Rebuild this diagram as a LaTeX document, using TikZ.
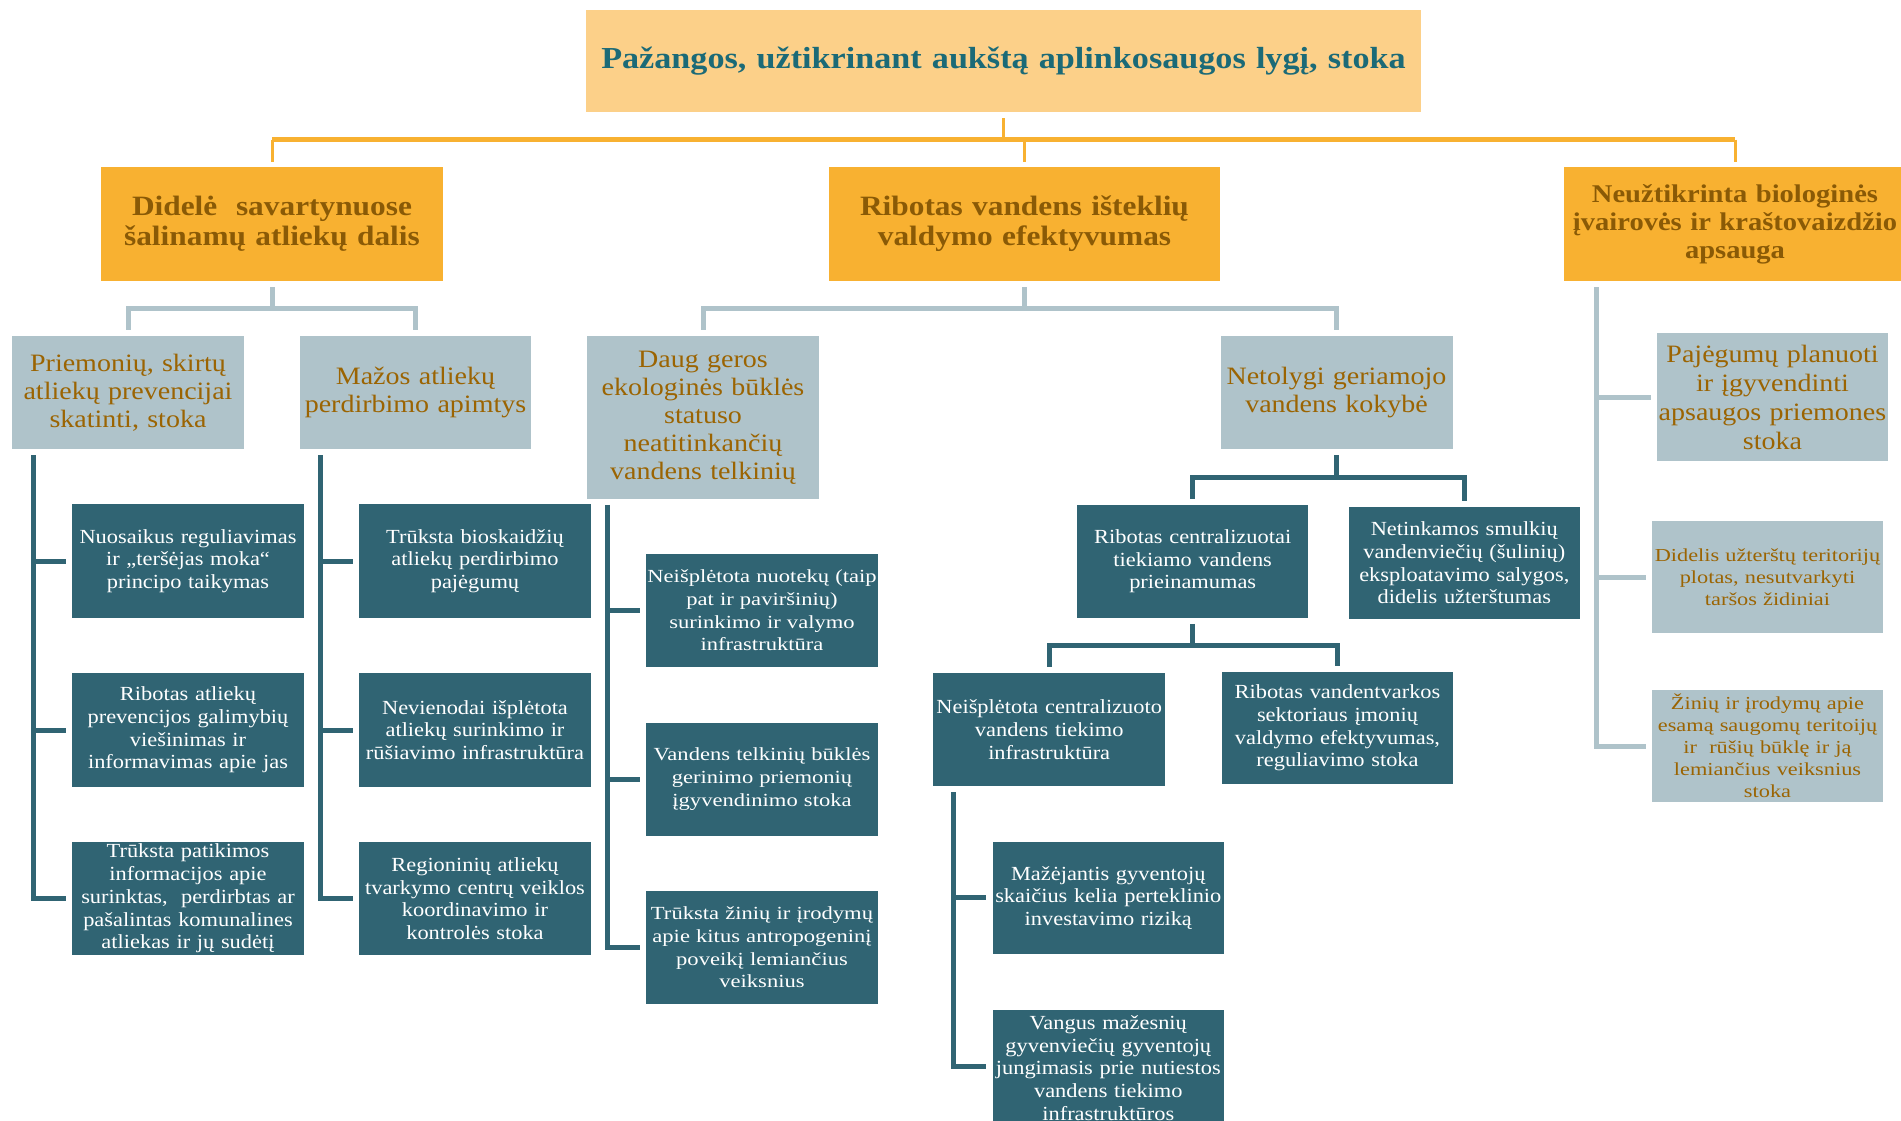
\documentclass[tikz,border=0pt]{standalone}
\usepackage{fontspec}
\setmainfont{Liberation Serif}[FakeStretch=1.12]
\newfontfamily\widefont{Liberation Serif}[FakeStretch=1.22]

\definecolor{topfill}{HTML}{FCD089}
\definecolor{toptext}{HTML}{1B6A77}
\definecolor{orfill}{HTML}{F8B131}
\definecolor{ortext}{HTML}{8A5A06}
\definecolor{grfill}{HTML}{AFC3CA}
\definecolor{grtext}{HTML}{9B6402}
\definecolor{tlfill}{HTML}{306473}

\begin{document}
\begin{tikzpicture}[x=1pt,y=-1pt,
  cbox/.style={rectangle, inner sep=0pt, align=center, anchor=center},
  sized/.style 2 args={text width=#1pt, minimum width=#1pt, minimum height=#2pt},
  topbox/.style={cbox, fill=topfill, text=toptext, font=\bfseries\fontsize{30.5}{34}\selectfont},
  lvone/.style={cbox, fill=orfill, text=ortext, font=\bfseries\fontsize{28}{30}\selectfont},
  lvtwo/.style={cbox, fill=grfill, text=grtext, font=\fontsize{25}{28}\selectfont},
  lvtwowide/.style={cbox, fill=grfill, text=grtext, font=\widefont\fontsize{18.3}{22}\selectfont},
  leaf/.style={cbox, fill=tlfill, text=white, font=\fontsize{20}{22.7}\selectfont},
  leafwide/.style={cbox, fill=tlfill, text=white, font=\widefont\fontsize{18.5}{22.6}\selectfont},
  overt/.style={draw=orfill, line width=3pt},
  obar/.style={draw=orfill, line width=5pt},
  gline/.style={draw=grfill, line width=5pt},
  tline/.style={draw=tlfill, line width=5pt}]

\useasboundingbox (0,0) rectangle (1901,1120);
\fill[white] (0,0) rectangle (1901,1120);
\clip (0,0) rectangle (1901,1120);

% ---------- root ----------
\node[topbox, sized={835}{102}] (top) at (1003.5,61)
  {Pažangos, užtikrinant aukštą aplinkosaugos lygį, stoka};

% ---------- first level ----------
\node[lvone, sized={342}{114}] (LA) at (272,224)
  {Didelė\ \ savartynuose\\šalinamų atliekų dalis};
\node[lvone, sized={391}{114}] (LB) at (1024.5,224)
  {Ribotas vandens išteklių\\valdymo efektyvumas};
\node[lvone, sized={342}{114}, font=\bfseries\fontsize{25.5}{28}\selectfont] (LC) at (1735,224)
  {Neužtikrinta biologinės\\įvairovės ir kraštovaizdžio\\apsauga};

% ---------- second level ----------
\node[lvtwo, sized={232}{113}] (A1) at (128,392.5)
  {Priemonių, skirtų\\atliekų prevencijai\\skatinti, stoka};
\node[lvtwo, sized={231}{113}] (A2) at (415.5,392.5)
  {Mažos atliekų\\perdirbimo apimtys};
\node[lvtwo, sized={232}{162.6}] (B1) at (703,417.3)
  {Daug geros\\ekologinės būklės\\statuso\\neatitinkančių\\vandens telkinių};
\node[lvtwo, sized={232}{113}] (B2) at (1336.5,392.5)
  {Netolygi geriamojo\\vandens kokybė};
\node[lvtwo, sized={231}{128}, font=\fontsize{25}{29}\selectfont] (C1) at (1772.5,397)
  {Pajėgumų planuoti\\ir įgyvendinti\\apsaugos priemones\\stoka};
\node[lvtwowide, sized={231}{112.5}] (C2) at (1767.5,577)
  {Didelis užterštų teritorijų\\plotas, nesutvarkyti\\taršos židiniai};
\node[lvtwowide, sized={231}{112}] (C3) at (1767.5,746)
  {Žinių ir įrodymų apie\\esamą saugomų teritoijų\\ir\ \ rūšių būklę ir ją\\lemiančius veiksnius\\stoka};

% ---------- waste branch leaves ----------
\node[leaf, sized={232}{114}] (A3) at (188,561)
  {Nuosaikus reguliavimas\\ir „teršėjas moka“\\principo taikymas};
\node[leaf, sized={232}{114}] (A4) at (188,730)
  {Ribotas atliekų\\prevencijos galimybių\\viešinimas ir\\informavimas apie jas};
\node[leaf, sized={232}{113}] (A5) at (188,898.5)
  {Trūksta patikimos\\informacijos apie\\surinktas,\ \ perdirbtas ar\\pašalintas komunalines\\atliekas ir jų sudėtį};
\node[leaf, sized={232}{114}] (A6) at (475,561)
  {Trūksta bioskaidžių\\atliekų perdirbimo\\pajėgumų};
\node[leaf, sized={232}{114}] (A7) at (475,730)
  {Nevienodai išplėtota\\atliekų surinkimo ir\\rūšiavimo infrastruktūra};
\node[leaf, sized={232}{113}] (A8) at (475,898.5)
  {Regioninių atliekų\\tvarkymo centrų veiklos\\koordinavimo ir\\kontrolės stoka};

% ---------- water branch leaves ----------
\node[leafwide, sized={232}{113}] (B3) at (762,610.5)
  {Neišplėtota nuotekų (taip\\pat ir paviršinių)\\surinkimo ir valymo\\infrastruktūra};
\node[leafwide, sized={232}{113}] (B4) at (762,779)
  {Vandens telkinių būklės\\gerinimo priemonių\\įgyvendinimo stoka};
\node[leafwide, sized={232}{113}] (B5) at (762,947.5)
  {Trūksta žinių ir įrodymų\\apie kitus antropogeninį\\poveikį lemiančius\\veiksnius};
\node[leaf, sized={231.5}{112.7}] (B6) at (1192.7,561.3)
  {Ribotas centralizuotai\\tiekiamo vandens\\prieinamumas};
\node[leaf, sized={231.5}{112.3}] (B7) at (1464.3,562.9)
  {Netinkamos smulkių\\vandenviečių (šulinių)\\eksploatavimo salygos,\\didelis užterštumas};
\node[leaf, sized={231.6}{113}] (B8) at (1049.2,729.5)
  {Neišplėtota centralizuoto\\vandens tiekimo\\infrastruktūra};
\node[leaf, sized={231}{112.3}] (B9) at (1337.5,727.9)
  {Ribotas vandentvarkos\\sektoriaus įmonių\\valdymo efektyvumas,\\reguliavimo stoka};
\node[leaf, sized={231.3}{112.3}] (B10) at (1108.3,897.9)
  {Mažėjantis gyventojų\\skaičius kelia perteklinio\\investavimo riziką};
\node[leaf, sized={231.3}{116}] (B11) at (1108.3,1068)
  {Vangus mažesnių\\gyvenviečių gyventojų\\jungimasis prie nutiestos\\vandens tiekimo\\infrastruktūros};

% ---------- root to first level ----------
\coordinate (oy) at (0,139.5);
\draw[overt] ([yshift=-6pt]top.south) -- (top.south |- oy);
\draw[obar] (LA.north |- oy) -- (LC.north |- oy);
\draw[overt] (LA.north |- oy) -- ([yshift=5pt]LA.north);
\draw[overt] (LB.north |- oy) -- ([yshift=5pt]LB.north);
\draw[overt] (LC.north |- oy) -- ([yshift=5pt]LC.north);

% ---------- first to second level ----------
\coordinate (gy) at (0,308);
\draw[gline] ([yshift=-6pt]LA.south) -- (LA.south |- gy);
\draw[gline] ([yshift=6pt]A1.north) |- (A2.north |- gy) -- ([yshift=6pt]A2.north);
\draw[gline] ([yshift=-6pt]LB.south) -- (LB.south |- gy);
\draw[gline] ([yshift=6pt]B1.north) |- (B2.north |- gy) -- ([yshift=6pt]B2.north);

\coordinate (cx) at (1596,0);
\draw[gline] ([yshift=-6pt]LC.south -| cx) |- ([xshift=-6pt]C3.west);
\draw[gline] (C1.west -| cx) -- ([xshift=-6pt]C1.west);
\draw[gline] (C2.west -| cx) -- ([xshift=-6pt]C2.west);

% ---------- side rails to leaves ----------
\coordinate (ax) at (33,0);
\draw[tline] ([yshift=-6pt]A1.south -| ax) |- ([xshift=-6pt]A5.west);
\draw[tline] (A3.west -| ax) -- ([xshift=-6pt]A3.west);
\draw[tline] (A4.west -| ax) -- ([xshift=-6pt]A4.west);

\coordinate (bx) at (320,0);
\draw[tline] ([yshift=-6pt]A2.south -| bx) |- ([xshift=-6pt]A8.west);
\draw[tline] (A6.west -| bx) -- ([xshift=-6pt]A6.west);
\draw[tline] (A7.west -| bx) -- ([xshift=-6pt]A7.west);

\coordinate (dx) at (607.7,0);
\draw[tline] ([yshift=-6pt]B1.south -| dx) |- ([xshift=-6pt]B5.west);
\draw[tline] (B3.west -| dx) -- ([xshift=-6pt]B3.west);
\draw[tline] (B4.west -| dx) -- ([xshift=-6pt]B4.west);

\coordinate (ex) at (953,0);
\draw[tline] ([yshift=-6pt]B8.south -| ex) |- ([xshift=-6pt]B11.west |- 0,1066);
\draw[tline] (B10.west -| ex) -- ([xshift=-6pt]B10.west);

% ---------- drinking water sub-tree ----------
\coordinate (ty1) at (0,477);
\draw[tline] ([yshift=-6pt]B2.south) -- (B2.south |- ty1);
\draw[tline] ([yshift=6pt]B6.north) |- (B7.north |- ty1) -- ([yshift=6pt]B7.north);

\coordinate (ty2) at (0,645);
\draw[tline] ([yshift=-6pt]B6.south) -- (B6.south |- ty2);
\draw[tline] ([yshift=6pt]B8.north) |- (B9.north |- ty2) -- ([yshift=6pt]B9.north);

\end{tikzpicture}
\end{document}
